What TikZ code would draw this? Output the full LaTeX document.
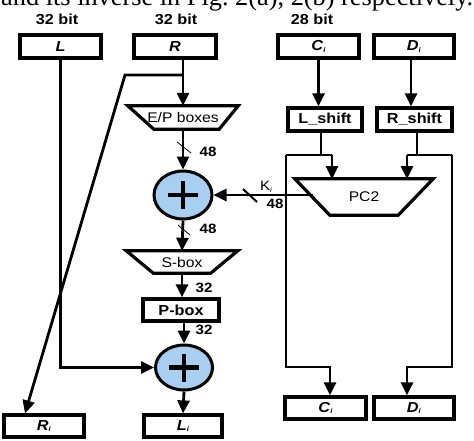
\documentclass[tikz,border=0pt]{standalone}
\usepackage{fontspec}
\usepackage{graphicx}
\setmainfont{Liberation Sans}
\newfontfamily\lab[FakeStretch=1.12]{Liberation Sans}
\newfontfamily\serifx{Liberation Serif}
\usetikzlibrary{arrows.meta,shapes.geometric,calc}
\definecolor{xorblue}{RGB}{168,206,242}
\newcommand{\sbi}{{\fontsize{7}{7}\selectfont\raisebox{-1.5pt}{\textit{i}}}}
\begin{document}
\begin{tikzpicture}[x=1pt,y=-1pt,
  box/.style={draw, line width=3.2pt, inner sep=0pt, font=\lab\bfseries\fontsize{14.5}{16}\selectfont},
  trap/.style={inner sep=0pt, font=\lab\fontsize{14}{16}\selectfont},
  trapline/.style={draw, line width=3.2pt, line join=miter},
  ar/.style={line width=2.8pt, -{Triangle[length=13pt,width=12pt]}},
  ln/.style={line width=2.8pt},
  num/.style={font=\lab\bfseries\fontsize{13.5}{15}\selectfont, inner sep=0pt},
  bits/.style={font=\lab\bfseries\fontsize{14.5}{16}\selectfont, inner sep=0pt},
  xor/.style={ellipse, draw, line width=3pt, fill=xorblue, inner sep=0pt},
  tick/.style={line width=0.8pt}
]
\useasboundingbox (0,0) rectangle (474,440);
\clip (0,0) rectangle (474,440);

% cropped caption line at the top
\node[anchor=base west, inner sep=0pt] (cap) at (1,5)
  {\resizebox{472pt}{!}{\serifx and its inverse in Fig.~2(a), 2(b) respectively.}};

% bit labels
\node[bits] (b1) at (57,19.5) {32 bit};
\node[bits] (b2) at (176,19.5) {32 bit};
\node[bits] (b3) at (312,19.5) {28 bit};

% top boxes
\node[box, minimum width=81pt, minimum height=23pt] (L) at (60.5,46.5) {\textit{L}};
\node[box, minimum width=82pt, minimum height=23pt] (R) at (175,46.5) {\textit{R}};
\node[box, minimum width=81pt, minimum height=23pt] (C) at (318.5,46.5) {\textit{C}\sbi};
\node[box, minimum width=80pt, minimum height=23pt] (D) at (414,46.5) {\textit{D}\sbi};

% shifts
\node[box, minimum width=74pt, minimum height=23pt] (Ls) at (325,119.5) {L\_shift};
\node[box, minimum width=75pt, minimum height=23pt] (Rs) at (414.5,119.5) {R\_shift};

% E/P boxes trapezoid
\node[trap, minimum width=110pt, minimum height=23pt] (ep) at (183,117.5) {E/P boxes};
\draw[trapline] (ep.north west) -- (ep.north east) -- ($(ep.south east)+(-19,0)$) -- ($(ep.south west)+(26,0)$) -- cycle;

% XOR 1
\node[xor, minimum width=58pt, minimum height=48pt] (x1) at (183,195) {};
\draw[line width=4.8pt] ($(x1.center)+(-15,0)$) -- ($(x1.center)+(15,0)$);
\draw[line width=4.8pt] ($(x1.center)+(0,-14)$) -- ($(x1.center)+(0,14)$);

% S-box trapezoid
\node[trap, minimum width=111pt, minimum height=22pt] (sb) at (182,262) {S-box};
\draw[trapline] (sb.north west) -- (sb.north east) -- ($(sb.south east)+(-27,0)$) -- ($(sb.south west)+(27,0)$) -- cycle;

% P-box
\node[box, minimum width=76pt, minimum height=22pt] (pb) at (181,310) {P-box};

% XOR 2
\node[xor, minimum width=57pt, minimum height=45pt] (x2) at (184,367.5) {};
\draw[line width=4.8pt] ($(x2.center)+(-15,0)$) -- ($(x2.center)+(15,0)$);
\draw[line width=4.8pt] ($(x2.center)+(0,-14)$) -- ($(x2.center)+(0,14)$);

% PC2 trapezoid
\node[trap, minimum width=138pt, minimum height=36pt] (pc) at (364,197) {PC2};
\draw[trapline] (pc.north west) -- (pc.north east) -- ($(pc.south east)+(-35,0)$) -- ($(pc.south west)+(35,0)$) -- cycle;

% outputs
\node[box, minimum width=80pt, minimum height=22pt] (Ri) at (44,426) {\textit{R}\sbi};
\node[box, minimum width=78pt, minimum height=22pt] (Li) at (183,426) {\textit{L}\sbi};
\node[box, minimum width=81pt, minimum height=22pt] (Co) at (325.5,408) {\textit{C}\sbi};
\node[box, minimum width=80pt, minimum height=22pt] (Do) at (414,408) {\textit{D}\sbi};

% coordinates
\coordinate (br) at (183,75);
\coordinate (bl) at (125,75);
\coordinate (rit) at ($(Ri.north)+(-19,0)$);
\coordinate (lsj) at (321,155);
\coordinate (rsj) at (417,155);
\coordinate (kst) at (312.5,195);

% left half connectors
\draw[ar] (L.south) |- (x2.west);
\draw[ar] (ep.north |- R.south) -- (ep.north);
\draw[ar, line join=miter] (br) -- (bl) -- (rit);
\draw[ar] (ep.south) -- (x1.north);
\draw[ar] (x1.south) -- (sb.north);
\draw[ar] (sb.south) -- (sb.south |- pb.north);
\draw[ar] (pb.south -| x2.north) -- (x2.north);
\draw[ar] (x2.south) -- (Li.north);

% bit-width marks
\draw[tick] (177,142) -- (191,153);
\node[num] (n1) at (208,152) {48};
\draw[tick] (178,225) -- (190,235);
\node[num] (n2) at (208,229) {48};
\node[num] (n3) at (204,288) {32};
\node[num] (n4) at (204,330) {32};

% key schedule
\draw[ar] (C.south) -- (C.south |- Ls.north);
\draw[ar] (D.south -| 411,0) -- (Rs.north -| 411,0);
\draw[ln] (Ls.south -| lsj) -- (lsj);
\draw[ln] (286,155) -- (332,155);
\draw[ar] (332,155) -- (332,179);
\draw[ln, line join=miter] (286,155) -- (286,367) -- (330,367);
\draw[ar] (330,366) -- (Co.north -| 330,0);
\draw[ln] (Rs.south -| rsj) -- (rsj);
\draw[ln] (407,155) -- (452,155);
\draw[ar] (407,155) -- (407,179);
\draw[ln, line join=miter] (452,155) -- (452,367) -- (407,367);
\draw[ar] (407,366) -- (Do.north -| 407,0);

% round key
\draw[ar] (kst) -- (x1.east);
\draw[line width=2pt] (243,189) -- (257,202);
\node[font=\lab\fontsize{13.5}{15}\selectfont, inner sep=0pt] (ki) at (266,187) {K\sbi};
\node[num] (n5) at (275,204) {48};
\end{tikzpicture}
\end{document}
